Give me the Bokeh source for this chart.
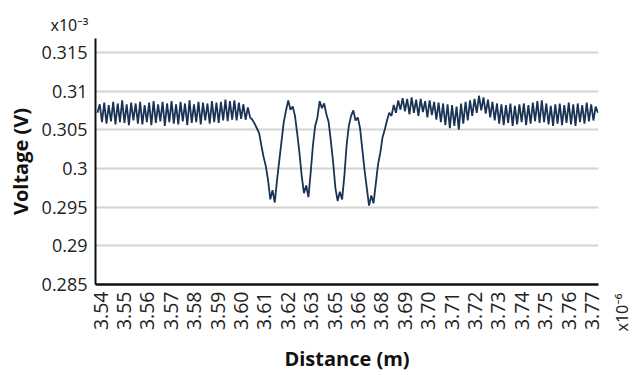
import numpy as np
from bokeh.plotting import figure
from bokeh.models import FixedTicker, Label, Range1d, Title
from bokeh.embed import file_html
from bokeh.resources import INLINE

# Tick labels (x axis is label-indexed: label k sits at position k)
x_tick_labels = ["3.54", "3.55", "3.56", "3.57", "3.58", "3.59", "3.60", "3.61",
                 "3.62", "3.63", "3.65", "3.66", "3.68", "3.69", "3.70", "3.71",
                 "3.72", "3.73", "3.74", "3.75", "3.76", "3.77"]
y_ticks = [0.285, 0.29, 0.295, 0.3, 0.305, 0.31, 0.315]
y_tick_labels = ["0.285", "0.29", "0.295", "0.3", "0.305", "0.31", "0.315"]

# Voltage samples (x10^-3 V)
voltage = [
    0.3072, 0.3083, 0.3060, 0.3085, 0.3058, 0.3082, 0.3061, 0.3086, 0.3057, 0.3084,
    0.3060, 0.3088, 0.3059, 0.3083, 0.3056, 0.3085, 0.3062, 0.3084, 0.3058, 0.3086,
    0.3057, 0.3082, 0.3060, 0.3085, 0.3056, 0.3087, 0.3059, 0.3083, 0.3061, 0.3086,
    0.3055, 0.3084, 0.3060, 0.3087, 0.3058, 0.3083, 0.3057, 0.3086, 0.3061, 0.3084,
    0.3056, 0.3088, 0.3059, 0.3083, 0.3060, 0.3086, 0.3057, 0.3085, 0.3062, 0.3084,
    0.3058, 0.3087, 0.3060, 0.3085, 0.3059, 0.3086, 0.3062, 0.3089, 0.3061, 0.3087,
    0.3063, 0.3088, 0.3062, 0.3085, 0.3064, 0.3083, 0.3063, 0.3079, 0.3066,
    # dips
    0.3063, 0.3058, 0.3052, 0.3046, 0.3030, 0.3015, 0.3003, 0.2985, 0.2960, 0.2972,
    0.2956, 0.2985, 0.3010, 0.3035, 0.3060, 0.3075, 0.3088, 0.3076, 0.3080, 0.3068,
    0.3045, 0.3020, 0.2990, 0.2968, 0.2978, 0.2963, 0.2995, 0.3030, 0.3055, 0.3066,
    0.3087, 0.3078, 0.3084, 0.3070, 0.3060, 0.3035, 0.3008, 0.2975, 0.2958, 0.2970,
    0.2960, 0.2990, 0.3030, 0.3055, 0.3068, 0.3075, 0.3062, 0.3066, 0.3052, 0.3025,
    0.2998, 0.2975, 0.2952, 0.2965, 0.2955, 0.2980, 0.3005, 0.3020, 0.3040, 0.3050,
    0.3062, 0.3072, 0.3068, 0.3082, 0.3072, 0.3088,
    # after dips
    0.3076, 0.3091, 0.3074, 0.3090, 0.3070, 0.3092, 0.3072, 0.3089, 0.3068, 0.3090,
    0.3073, 0.3087, 0.3066, 0.3088, 0.3069, 0.3086, 0.3063, 0.3085, 0.3060, 0.3084,
    0.3056, 0.3083, 0.3052, 0.3082, 0.3055, 0.3080, 0.3050, 0.3084, 0.3058, 0.3086,
    0.3062, 0.3088, 0.3068, 0.3090, 0.3072, 0.3094, 0.3075, 0.3092, 0.3071, 0.3089,
    0.3066, 0.3086, 0.3062, 0.3084, 0.3058, 0.3083, 0.3056, 0.3082, 0.3059, 0.3084,
    0.3055, 0.3081, 0.3057, 0.3083, 0.3060, 0.3084, 0.3056, 0.3082, 0.3058, 0.3085,
    0.3061, 0.3087, 0.3059, 0.3088, 0.3060, 0.3084, 0.3057, 0.3081, 0.3055, 0.3083,
    0.3058, 0.3084, 0.3056, 0.3082, 0.3059, 0.3085, 0.3057, 0.3083, 0.3055, 0.3084,
    0.3060, 0.3082, 0.3058, 0.3085, 0.3061, 0.3083, 0.3062, 0.3080, 0.3072,
]

X_START = -0.128
X_STEP = 0.0959
xs = X_START + X_STEP * np.arange(len(voltage))

FONT = "Open Sans"

p = figure(width=637, height=375, output_backend="svg", toolbar_location=None,
           x_range=Range1d(-0.2137, 21.282), y_range=Range1d(0.285, 0.3168),
           min_border_left=95, min_border_right=39, min_border_top=38,
           min_border_bottom=84)
p.outline_line_color = None
p.background_fill_color = "white"
p.border_fill_color = "white"

p.line(xs, voltage, line_color="#1a3254", line_width=1.8)

# axes
p.xaxis.ticker = FixedTicker(ticks=list(range(len(x_tick_labels))))
p.xaxis.major_label_overrides = {i: t for i, t in enumerate(x_tick_labels)}
p.xaxis.major_label_orientation = np.pi / 2
p.yaxis.ticker = FixedTicker(ticks=y_ticks)
p.yaxis.major_label_overrides = {v: t for v, t in zip(y_ticks, y_tick_labels)}

for ax in (p.xaxis, p.yaxis):
    ax.major_tick_line_color = None
    ax.minor_tick_line_color = None
    ax.major_tick_out = 0
    ax.major_tick_in = 0
    ax.minor_tick_out = 0
    ax.minor_tick_in = 0
    ax.major_label_text_font = FONT
    ax.major_label_text_color = "#222222"
    ax.axis_label_text_font = FONT
    ax.axis_label_text_font_style = "bold"
    ax.axis_label_text_font_size = "20px"
    ax.axis_label_text_color = "#111111"
    ax.axis_line_color = "#111111"

p.xaxis.major_label_text_font_size = "19.5px"
p.yaxis.major_label_text_font_size = "18px"
p.xaxis.axis_line_width = 2.5
p.yaxis.axis_line_width = 2
p.xaxis.major_label_standoff = 7
p.yaxis.major_label_standoff = 8
p.xaxis.axis_label = "Distance (m)"
p.yaxis.axis_label = "Voltage (V)"
p.xaxis.axis_label_standoff = 12
p.yaxis.axis_label_standoff = 5

p.xgrid.grid_line_color = None
p.ygrid.grid_line_color = "#d4d4d4"
p.ygrid.grid_line_width = 1.8
p.ygrid.ticker = FixedTicker(ticks=y_ticks[1:])

# exponent of the y axis, as a title above the frame
p.add_layout(Title(text="x10\u207b\u00b3", text_font="Noto Sans", text_font_size="16px",
                   text_font_style="normal", text_color="#222222", align="left",
                   offset=-45, standoff=6), "above")

# exponent of the x axis, as a label in the right panel
p.add_layout(Label(x=23, y=-47, x_units="screen", y_units="screen",
                   text="x10\u207b\u2076",
                   text_font="Noto Sans", text_font_size="16px", text_color="#222222",
                   text_baseline="alphabetic", text_align="left", angle=np.pi / 2),
             "right")

open("out.html", "w").write(file_html(p, INLINE))
